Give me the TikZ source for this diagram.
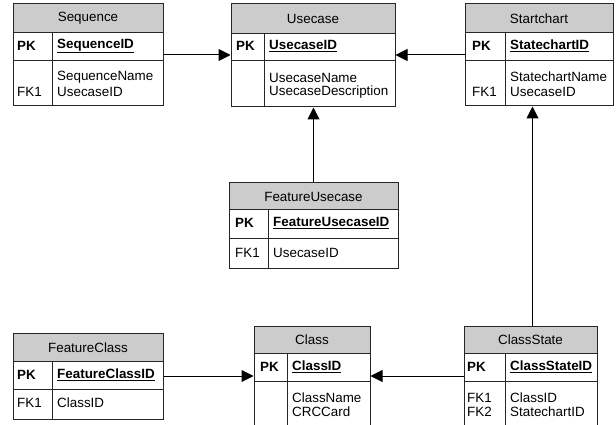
\documentclass[tikz,border=0pt]{standalone}
\usepackage{fontspec}
\setmainfont{Liberation Sans}
\usetikzlibrary{arrows.meta,fit}
\tikzset{
  hdr/.style={fill=black!20},
  tbl/.style={draw=black!85, line width=1pt, inner sep=0pt},
  tline/.style={draw=black!85, line width=0.9pt},
  ttl/.style={inner sep=0pt, font=\fontsize{13.4}{15}\selectfont},
  fld/.style={inner sep=0pt, anchor=west, font=\fontsize{13.4}{15}\selectfont},
  key/.style={fld, font=\fontsize{13.4}{15}\selectfont\bfseries},
  conn/.style={draw=black, line width=1pt, -{Triangle[length=12pt,width=12pt]}}
}
\newcommand\ertab[9]{%
  \fill[hdr] (#2,#3) rectangle (#4,#6);
  \node[tbl, fit={(#2,#3)(#4,#5)}] (#1) {};
  \draw[tline] (#2,#6) -- (#4,#6) (#2,#7) -- (#4,#7) (#8,#6) -- (#8,#5);
  \node[ttl] (#1-t) at ({(#2+#4)/2},{(#3+#6)/2+0.5}) {#9};
}
\begin{document}
\begin{tikzpicture}[x=1pt,y=-1pt]
\clip (0,0) rectangle (616,425);
\fill[white] (0,0) rectangle (616,425);
% tables
\ertab{seq}{13}{4}{163}{106}{32}{60}{52}{Sequence}
\ertab{use}{231}{4}{395}{107}{33}{60}{264}{Usecase}
\ertab{sc}{465}{4}{613}{106}{32}{60}{505}{Startchart}
\ertab{fu}{229}{183}{398}{268}{209}{238}{268}{FeatureUsecase}
\ertab{fc}{13}{333}{163}{419}{361}{389}{52}{FeatureClass}
\ertab{cl}{254}{326}{370}{445}{353}{381}{287}{Class}
\ertab{cs}{464}{326}{597}{445}{353}{381}{505}{ClassState}
% Sequence
\node[key] (seq-pk) at (17,46) {PK};
\node[key] (seq-id) at (57,46) {\underline{SequenceID}};
\node[fld] (seq-f1) at (57,77) {SequenceName};
\node[fld] (seq-f2) at (57,92) {UsecaseID};
\node[fld] (seq-k1) at (17,92) {FK1};
% Usecase
\node[key] (use-pk) at (236,46) {PK};
\node[key] (use-id) at (269,46) {\underline{UsecaseID}};
\node[fld] (use-f1) at (269,78) {UsecaseName};
\node[fld] (use-f2) at (269,92) {UsecaseDescription};
% Startchart
\node[key] (sc-pk) at (472,46) {PK};
\node[key] (sc-id) at (510,46) {\underline{StatechartID}};
\node[fld] (sc-f1) at (510,77) {StatechartName};
\node[fld] (sc-f2) at (510,92) {UsecaseID};
\node[fld] (sc-k1) at (472,92) {FK1};
% FeatureUsecase
\node[key] (fu-pk) at (235,223) {PK};
\node[key] (fu-id) at (273,223) {\underline{FeatureUsecaseID}};
\node[fld] (fu-k1) at (235,253) {FK1};
\node[fld] (fu-f1) at (273,253) {UsecaseID};
% FeatureClass
\node[key] (fc-pk) at (17,375) {PK};
\node[key] (fc-id) at (57,375) {\underline{FeatureClassID}};
\node[fld] (fc-k1) at (17,403) {FK1};
\node[fld] (fc-f1) at (57,403) {ClassID};
% Class
\node[key] (cl-pk) at (260,367) {PK};
\node[key] (cl-id) at (292,367) {\underline{ClassID}};
\node[fld] (cl-f1) at (292,398) {ClassName};
\node[fld] (cl-f2) at (292,412) {CRCCard};
% ClassState
\node[key] (cs-pk) at (467,367) {PK};
\node[key] (cs-id) at (510,367) {\underline{ClassStateID}};
\node[fld] (cs-k1) at (467,398) {FK1};
\node[fld] (cs-f1) at (510,398) {ClassID};
\node[fld] (cs-k2) at (467,412) {FK2};
\node[fld] (cs-f2) at (510,412) {StatechartID};
% connectors
\draw[conn] (seq.east) -- (seq.east -| use.west);
\draw[conn] (sc.west) -- (sc.west -| use.east);
\draw[conn] (fu.north) -- (fu.north |- use.south);
\draw[conn] ([xshift=2pt]cs.north) -- ([xshift=2pt]cs.north |- sc.south);
\draw[conn] (fc.east) -- (fc.east -| cl.west);
\draw[conn] (cs.west |- fc.east) -- (cl.east |- fc.east);
\end{tikzpicture}
\end{document}
